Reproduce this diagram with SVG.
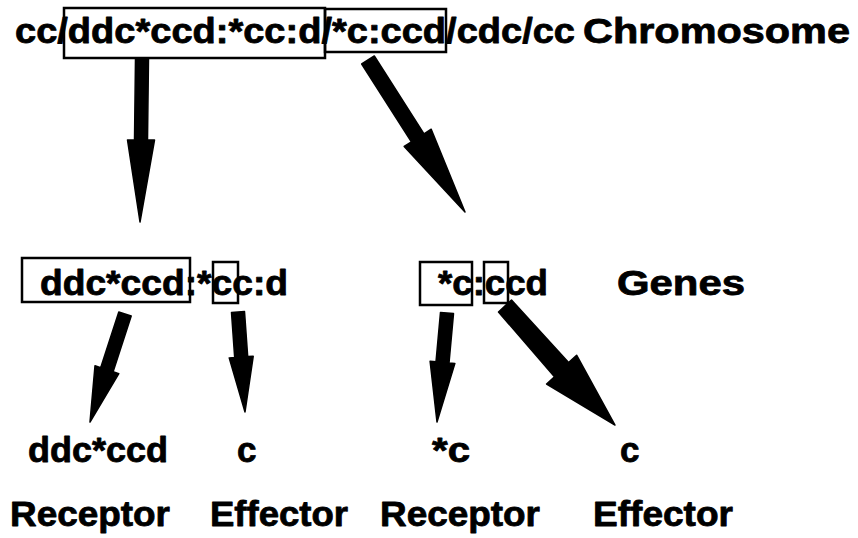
<svg xmlns="http://www.w3.org/2000/svg" width="858" height="538" viewBox="0 0 858 538">
  <style>
    text { font-family: "Liberation Sans", Arial, Helvetica, sans-serif; font-weight: bold; font-size: 35px; fill: #000; stroke: #000; stroke-width: 0.8; stroke-linejoin: round; }
    .box { fill: none; stroke: #000; stroke-width: 2.5; }
    .arrow { fill: #000; stroke: #000; stroke-width: 1.5; stroke-linejoin: round; }
  </style>
  <rect width="858" height="538" fill="#fff"/>

  <!-- chromosome string with its two gene segments boxed -->
  <g id="chromosome">
    <rect class="box" x="64" y="8" width="261" height="50"/>
    <rect class="box" x="325" y="9" width="121" height="43"/>
    <text x="15" y="43" textLength="560" lengthAdjust="spacingAndGlyphs">cc/ddc*ccd:*cc:d/*c:ccd/cdc/cc</text>
    <text x="583" y="43" textLength="267" lengthAdjust="spacingAndGlyphs">Chromosome</text>
  </g>

  <!-- first gene: receptor part and effector part boxed -->
  <g id="gene1">
    <rect class="box" x="22" y="258" width="168" height="44"/>
    <rect class="box" x="213" y="262" width="25" height="41"/>
    <text x="40" y="295" textLength="248" lengthAdjust="spacingAndGlyphs">ddc*ccd:*cc:d</text>
  </g>

  <!-- second gene -->
  <g id="gene2">
    <rect class="box" x="420" y="262" width="52" height="43"/>
    <rect class="box" x="484" y="262" width="24" height="41"/>
    <text x="438" y="295" textLength="110" lengthAdjust="spacingAndGlyphs">*c:ccd</text>
  </g>

  <g id="genes-label">
    <text x="617" y="295" textLength="128" lengthAdjust="spacingAndGlyphs">Genes</text>
  </g>

  <!-- decoded parts -->
  <g id="receptor1">
    <text x="28" y="462" textLength="140" lengthAdjust="spacingAndGlyphs">ddc*ccd</text>
    <text x="10" y="526" textLength="160" lengthAdjust="spacingAndGlyphs">Receptor</text>
  </g>
  <g id="effector1">
    <text x="237" y="462">c</text>
    <text x="210" y="526" textLength="138" lengthAdjust="spacingAndGlyphs">Effector</text>
  </g>
  <g id="receptor2">
    <text x="432" y="462" textLength="38" lengthAdjust="spacingAndGlyphs">*c</text>
    <text x="380" y="526" textLength="160" lengthAdjust="spacingAndGlyphs">Receptor</text>
  </g>
  <g id="effector2">
    <text x="620" y="462">c</text>
    <text x="593" y="526" textLength="140" lengthAdjust="spacingAndGlyphs">Effector</text>
  </g>

  <!-- block arrows -->
  <g id="connectors">
    <polygon class="arrow" points="135.5,58 148.5,58 147.5,140 154.5,140 140,222 127.5,140 134.5,140"/>
    <polygon class="arrow" points="361.7,64 374.3,56 424,133.8 431.2,129.2 465,212 404.2,146.4 411.4,141.8"/>
    <polygon class="arrow" points="118.8,312 131.2,316 113.1,371.7 118.8,373.6 90,422 95,365.8 100.7,367.7"/>
    <polygon class="arrow" points="231.5,312.5 244.5,311.5 247.7,356.6 253.2,356.3 245,412 229.2,357.9 234.7,357.6"/>
    <polygon class="arrow" points="440.5,312.4 453.5,313.6 449,362.9 454.9,363.4 437,422 430.1,361.2 436,361.7"/>
    <polygon class="arrow" points="498.5,312 511.5,300 568.6,362.6 576.6,355.2 615,425 546.6,384 554.5,376.7"/>
  </g>
</svg>
